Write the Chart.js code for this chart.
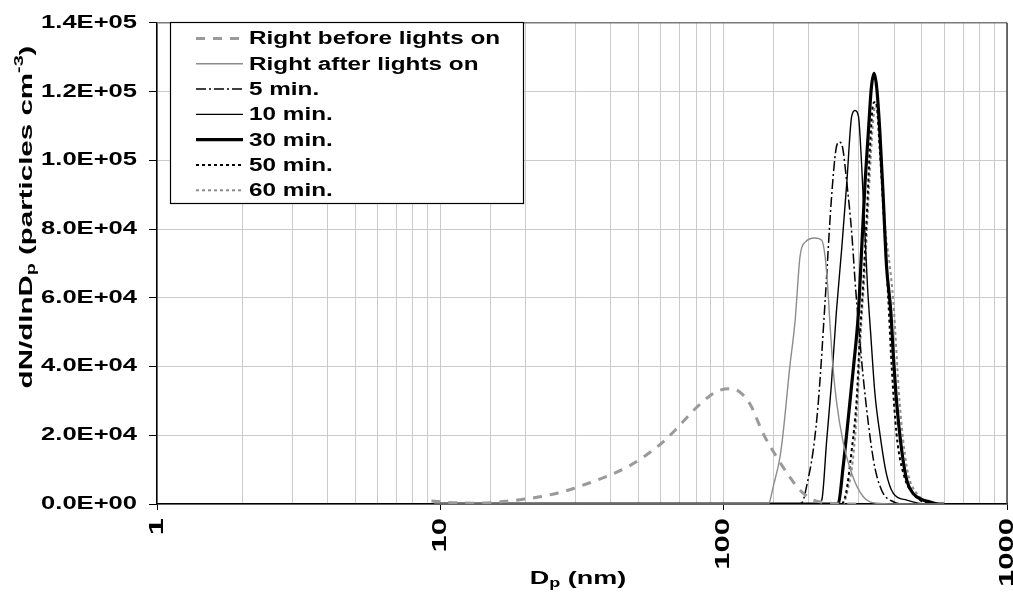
<!DOCTYPE html>
<html>
<head>
<meta charset="utf-8">
<script src="https://cdn.jsdelivr.net/npm/chart.js@4.4.1/dist/chart.umd.min.js"></script>
<style>
  html, body { margin: 0; padding: 0; background: #fff; }
  canvas { display: block; }
</style>
</head>
<body>
<canvas id="c" width="1013" height="599"></canvas>
<script>
// ---- Data ----
const seriesNames = ["Right before lights on", "Right after lights on", "5 min.", "10 min.", "30 min.", "50 min.", "60 min."];
const xTickLabels = [1, 10, 100, 1000];

const beforeDp = [9.3, 11, 13, 15, 17, 19.6, 22.5, 26, 29.5, 34, 39.7, 46, 52, 61, 68, 78, 89.5, 97, 105, 113, 124, 138, 154, 171, 186, 207, 231, 260, 300];
const beforeN  = [900, 400, 250, 400, 800, 1350, 2100, 3200, 4500, 6300, 8400, 10900, 13600, 18000, 21800, 27100, 31500, 33100, 33500, 32800, 29000, 20400, 13600, 7900, 4000, 1150, 350, 0, 0];

const afterDp = [9.5, 143.8, 150, 158, 162, 171, 178.6, 186, 194, 210, 222, 228, 233, 237, 243, 250, 264, 283, 311, 347, 400, 600];
const afterN  = [0, 0, 5500, 13600, 20400, 39600, 53100, 72000, 76200, 77400, 76700, 72000, 63000, 53000, 40000, 30000, 18000, 8900, 2100, 200, 0, 0];

const min5Dp = [9.5, 186, 191, 196, 207, 216, 228, 240, 249, 256, 263, 272, 283, 291, 296, 311, 338, 361, 397, 440, 600];
const min5N  = [0, 0, 1150, 5000, 15600, 30000, 58900, 88700, 103100, 105300, 103600, 93500, 79100, 64700, 57000, 36700, 12700, 4000, 660, 0, 0];

const min10Dp = [9.5, 215, 222, 231, 240, 250, 261, 272, 283, 291, 299, 307, 315, 322, 330, 342, 356, 375, 397, 443, 520, 600];
const min10N  = [0, 0, 1150, 18500, 34800, 56000, 74300, 93500, 112800, 114500, 112800, 98400, 79100, 63000, 50000, 32000, 20400, 8900, 3100, 1150, 0, 0];

const min30Dp = [9.5, 250, 254, 264, 275.5, 287, 298.6, 307, 315.5, 324, 332, 339.5, 347, 356, 366, 375.5, 389, 398, 407.5, 425, 443, 466, 500, 535, 576, 600];
const min30N  = [0, 0, 200, 10800, 25200, 39600, 55000, 74300, 93500, 108000, 121000, 125300, 121000, 108000, 88700, 69500, 56000, 42000, 30000, 15600, 6900, 3100, 1300, 600, 0, 0];

const min50Dp = [9.5, 260, 270, 283, 294.5, 302.8, 311, 320, 328, 337.6, 345, 355.6, 370, 381, 392, 407.5, 431, 480, 550, 600];
const min50N  = [0, 0, 3000, 15600, 30000, 49300, 64700, 83900, 103100, 116600, 117000, 103100, 79100, 59800, 39600, 20400, 8860, 2100, 0, 0];

const min60Dp = [9.5, 264, 272, 285, 297, 306, 316, 326, 336, 343, 350, 360, 372, 385, 397, 417.5, 443, 480, 565, 600];
const min60N  = [0, 0, 3000, 12000, 30000, 52000, 70000, 92000, 110000, 116000, 113000, 99000, 80000, 70000, 58900, 30000, 10800, 3100, 200, 0];

// ---- Styles ----
const styles = [
  { color: '#9a9a9a', width: 3,   dash: [9, 8] },
  { color: '#8c8c8c', width: 1.4, dash: [] },
  { color: '#000000', width: 1.5, dash: [10, 3, 2, 3] },
  { color: '#000000', width: 1.4, dash: [] },
  { color: '#000000', width: 3.2, dash: [] },
  { color: '#000000', width: 2,   dash: [3, 3] },
  { color: '#8c8c8c', width: 2,   dash: [3, 3] }
];
const dpSets = [beforeDp, afterDp, min5Dp, min10Dp, min30Dp, min50Dp, min60Dp];
const nSets  = [beforeN, afterN, min5N, min10N, min30N, min50N, min60N];

const datasets = seriesNames.map((name, i) => ({
  label: name,
  data: dpSets[i].map((d, k) => ({ x: d, y: nSets[i][k] })),
  borderColor: styles[i].color,
  borderWidth: styles[i].width,
  borderDash: styles[i].dash,
  borderCapStyle: 'butt',
  pointRadius: 0,
  fill: false,
  cubicInterpolationMode: 'monotone'
}));

const FONT = '"Liberation Sans", Arial, sans-serif';
const Y_TICK_SIZE = 18, X_TICK_SIZE = 20;

// ---- wide (horizontally stretched) text, as in the reference ----
const canvas = document.getElementById('c');
const ctx0 = canvas.getContext('2d');
const origFill = CanvasRenderingContext2D.prototype.fillText;
const origMeasure = CanvasRenderingContext2D.prototype.measureText;
function stretchFor(c) {
  if (c._stretch) return c._stretch;
  const m = /(\d+(?:\.\d+)?)px/.exec(c.font);
  const s = m ? +m[1] : 0;
  if (s === Y_TICK_SIZE) return 1.42;
  if (s === X_TICK_SIZE) return 1.55;
  return 1;
}
ctx0.fillText = function (t, x, y) {
  const s = stretchFor(this);
  if (s === 1) return origFill.call(this, t, x, y);
  this.save();
  this.translate(x, y);
  this.scale(s, 1);
  origFill.call(this, t, 0, 0);
  this.restore();
};
ctx0.measureText = function (t) {
  const m = origMeasure.call(this, t);
  const s = stretchFor(this);
  if (s === 1) return m;
  return {
    width: m.width * s,
    actualBoundingBoxLeft: m.actualBoundingBoxLeft * s,
    actualBoundingBoxRight: m.actualBoundingBoxRight * s,
    actualBoundingBoxAscent: m.actualBoundingBoxAscent,
    actualBoundingBoxDescent: m.actualBoundingBoxDescent,
    fontBoundingBoxAscent: m.fontBoundingBoxAscent,
    fontBoundingBoxDescent: m.fontBoundingBoxDescent
  };
};

function fmtExp(v) {
  if (v === 0) return '0.0E+00';
  const e = Math.floor(Math.log10(Math.abs(v)) + 1e-9);
  const m = v / Math.pow(10, e);
  return m.toFixed(1) + 'E+' + String(e).padStart(2, '0');
}
function isDecade(v) {
  const l = Math.log10(v);
  return Math.abs(l - Math.round(l)) < 1e-6;
}

const decor = {
  id: 'decor',
  afterDraw(chart) {
    const ctx = chart.ctx;
    const a = chart.chartArea;
    ctx.save();
    // top & right frame
    ctx.setLineDash([]);
    ctx.lineWidth = 1.5;
    ctx.strokeStyle = '#7a7a7a';
    ctx.beginPath();
    ctx.moveTo(a.left, a.top); ctx.lineTo(a.right, a.top);
    ctx.stroke();
    ctx.strokeStyle = '#404040';
    ctx.beginPath();
    ctx.moveTo(a.right, a.top); ctx.lineTo(a.right, a.bottom);
    ctx.stroke();

    // legend box
    const bx = 170, by = 22, bw = 353, bh = 181;
    ctx.fillStyle = '#fff';
    ctx.fillRect(bx, by, bw, bh);
    ctx.strokeStyle = '#000';
    ctx.lineWidth = 1.2;
    ctx.strokeRect(bx + 0.5, by + 0.5, bw, bh);
    ctx.font = 'bold 18px ' + FONT;
    ctx.textBaseline = 'middle';
    ctx.textAlign = 'left';
    seriesNames.forEach((name, i) => {
      const y = 38.5 + i * 25.3;
      ctx.strokeStyle = styles[i].color;
      ctx.lineWidth = styles[i].width;
      ctx.setLineDash(styles[i].dash);
      ctx.beginPath();
      ctx.moveTo(196, y); ctx.lineTo(243, y);
      ctx.stroke();
      ctx.setLineDash([]);
      ctx.fillStyle = '#000';
      ctx._stretch = 1.35;
      ctx.fillText(name, 249, y + 1);
      ctx._stretch = 0;
    });

    // axis titles with sub/superscripts
    function drawRich(parts, x, y, stretch) {
      const big = 'bold 18px ' + FONT, small = 'bold 12px ' + FONT;
      ctx._stretch = stretch;
      let total = 0;
      parts.forEach(p => { ctx.font = p.mode === 'n' ? big : small; total += ctx.measureText(p.t).width; });
      let cx = x - total / 2;
      parts.forEach(p => {
        ctx.font = p.mode === 'n' ? big : small;
        const dy = p.mode === 'sub' ? 5 : (p.mode === 'sup' ? -7 : 0);
        ctx.fillText(p.t, cx, y + dy);
        cx += ctx.measureText(p.t).width;
      });
      ctx._stretch = 0;
    }
    ctx.fillStyle = '#000';
    ctx.textBaseline = 'middle';
    ctx.textAlign = 'left';
    drawRich([{ t: 'D', mode: 'n' }, { t: 'p', mode: 'sub' }, { t: ' (nm)', mode: 'n' }], 578, 579, 1.5);
    ctx.save();
    ctx.translate(27, 217);
    ctx.rotate(-Math.PI / 2);
    drawRich([{ t: 'dN/dlnD', mode: 'n' }, { t: 'p', mode: 'sub' }, { t: ' (particles cm', mode: 'n' }, { t: '-3', mode: 'sup' }, { t: ')', mode: 'n' }], 0, 0, 1.64);
    ctx.restore();
    ctx.restore();
  }
};

new Chart(canvas, {
  type: 'line',
  data: { datasets },
  options: {
    responsive: false,
    animation: false,
    devicePixelRatio: 1,
    layout: { padding: { left: 0, right: 6, top: 19, bottom: 0 } },
    plugins: { legend: { display: false }, tooltip: { enabled: false } },
    scales: {
      x: {
        type: 'logarithmic',
        min: 1, max: 1000,
        afterFit: s => { s.height = 95; s.paddingLeft = 0; s.paddingRight = 0; },
        ticks: {
          autoSkip: false,
          minRotation: 90, maxRotation: 90,
          padding: 8,
          color: '#000',
          font: { family: FONT, size: X_TICK_SIZE, weight: 'bold' },
          callback: v => (isDecade(v) && xTickLabels.includes(Math.round(v))) ? String(Math.round(v)) : ''
        },
        grid: {
          color: '#cbcbcb',
          lineWidth: 1,
          tickLength: 6,
          tickColor: c => (c.tick && isDecade(c.tick.value)) ? '#000' : 'rgba(0,0,0,0)'
        },
        border: { color: '#000', width: 1.5 }
      },
      y: {
        min: 0, max: 140000,
        afterFit: s => { s.width = 157; },
        ticks: {
          stepSize: 20000,
          padding: 12,
          color: '#000',
          font: { family: FONT, size: Y_TICK_SIZE, weight: 'bold' },
          callback: v => fmtExp(v)
        },
        grid: { color: '#cbcbcb', lineWidth: 1, tickLength: 8, tickColor: '#000' },
        border: { color: '#000', width: 1.5 }
      }
    }
  },
  plugins: [decor]
});
</script>
</body>
</html>
